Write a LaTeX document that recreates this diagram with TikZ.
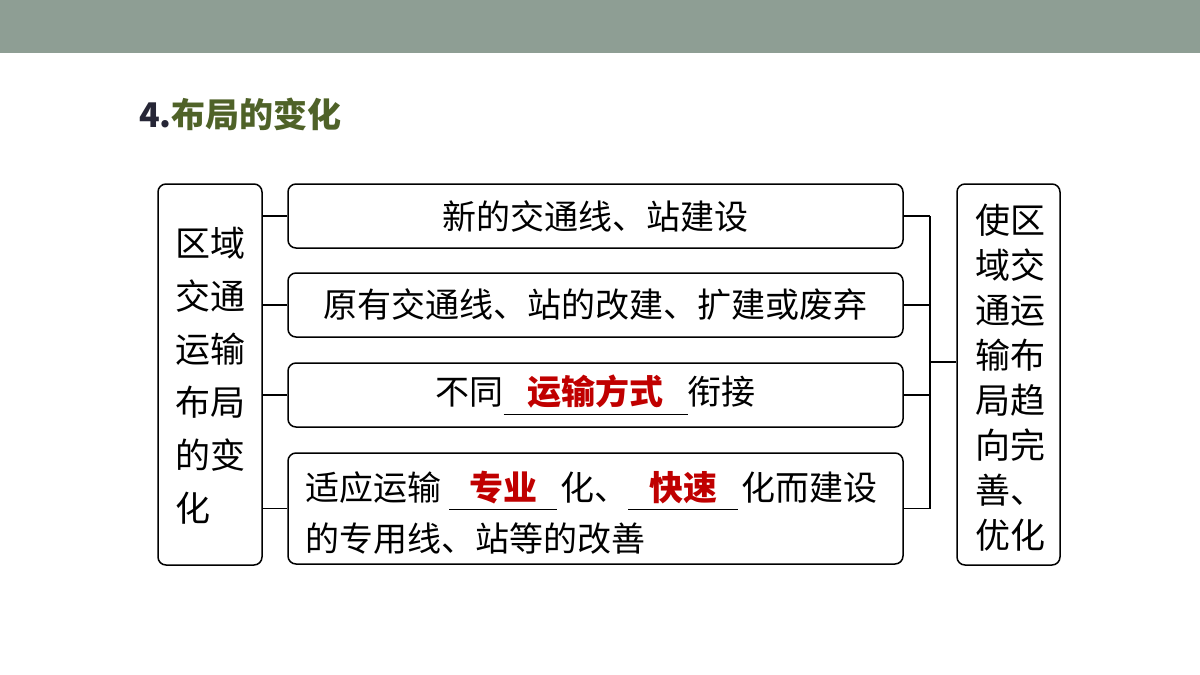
\documentclass[tikz,border=0pt]{standalone}
\usepackage{fontspec}
\setmainfont{Noto Sans CJK SC}
\definecolor{band}{HTML}{8E9E94}
\definecolor{titlegreen}{HTML}{4F6228}
\definecolor{titledark}{HTML}{262636}
\definecolor{fillred}{HTML}{C00000}
\newcommand\fillin[2]{\makebox[0pt][l]{\rule[-10pt]{#1pt}{1.3pt}}\makebox[#1pt]{\color{fillred}\bfseries #2}}
\begin{document}
\begin{tikzpicture}[x=1pt,y=-1pt,
  box/.style={draw=black,line width=1.5pt,rounded corners=8pt,inner sep=0pt},
  link/.style={draw=black,line width=1.5pt},
  txt/.style={inner sep=0pt,font=\fontsize{34}{40}\selectfont}]
\fill[white] (0,0) rectangle (1200,675);
\fill[band] (0,0) rectangle (1200,53);
\useasboundingbox (0,0) rectangle (1200,675);
% title
\node[inner sep=0pt,anchor=west,font=\fontsize{34}{38}\selectfont\bfseries,text=titlegreen] (title) at (139,114) {{\color{titledark}4.}布局的变化};
% boxes
\node[box,minimum width=104pt,minimum height=381pt] (lbox) at (210,374.5) {};
\node[box,minimum width=615pt,minimum height=64pt] (b1) at (595.5,216) {};
\node[box,minimum width=615pt,minimum height=64pt] (b2) at (595.5,305) {};
\node[box,minimum width=615pt,minimum height=64pt] (b3) at (595.5,395) {};
\node[box,minimum width=615pt,minimum height=111pt] (b4) at (595.5,508.5) {};
\node[box,minimum width=103pt,minimum height=381pt] (rbox) at (1008.5,374.5) {};
% texts
\node[txt,align=left,font=\fontsize{35}{53}\selectfont] (ltext) at (210,375.5) {区域\\交通\\运输\\布局\\的变\\化};
\node[txt,align=left,font=\fontsize{35}{45}\selectfont] (rtext) at (1010,377.5) {使区\\域交\\通运\\输布\\局趋\\向完\\善、\\优化};
\node[txt] (t1) at (b1) {新的交通线、站建设};
\node[txt] (t2) at (b2) {原有交通线、站的改建、扩建或废弃};
\node[txt] (t3) at (b3) {不同\fillin{184}{运输方式}衔接};
\node[txt,anchor=west,align=left,font=\fontsize{34}{51}\selectfont] (t4) at (305,512.5) {适应运输\hspace{8pt}\fillin{108}{专业}\hspace{3pt}化、\fillin{110}{快速}\hspace{3pt}化而建设\\的专用线、站等的改善};
% connectors
\foreach \b in {b1,b2,b3,b4}{
  \draw[link] (\b.west -| lbox.east) -- (\b.west);
}
\coordinate (j) at (930,362);
\foreach \b in {b1,b2,b3,b4}{
  \draw[link] (\b.east) -- (\b.east -| j);
}
\draw[link] (b1.east -| j) -- (b4.east -| j);
\draw[link] (j) -- (j -| rbox.west);
\end{tikzpicture}
\end{document}
